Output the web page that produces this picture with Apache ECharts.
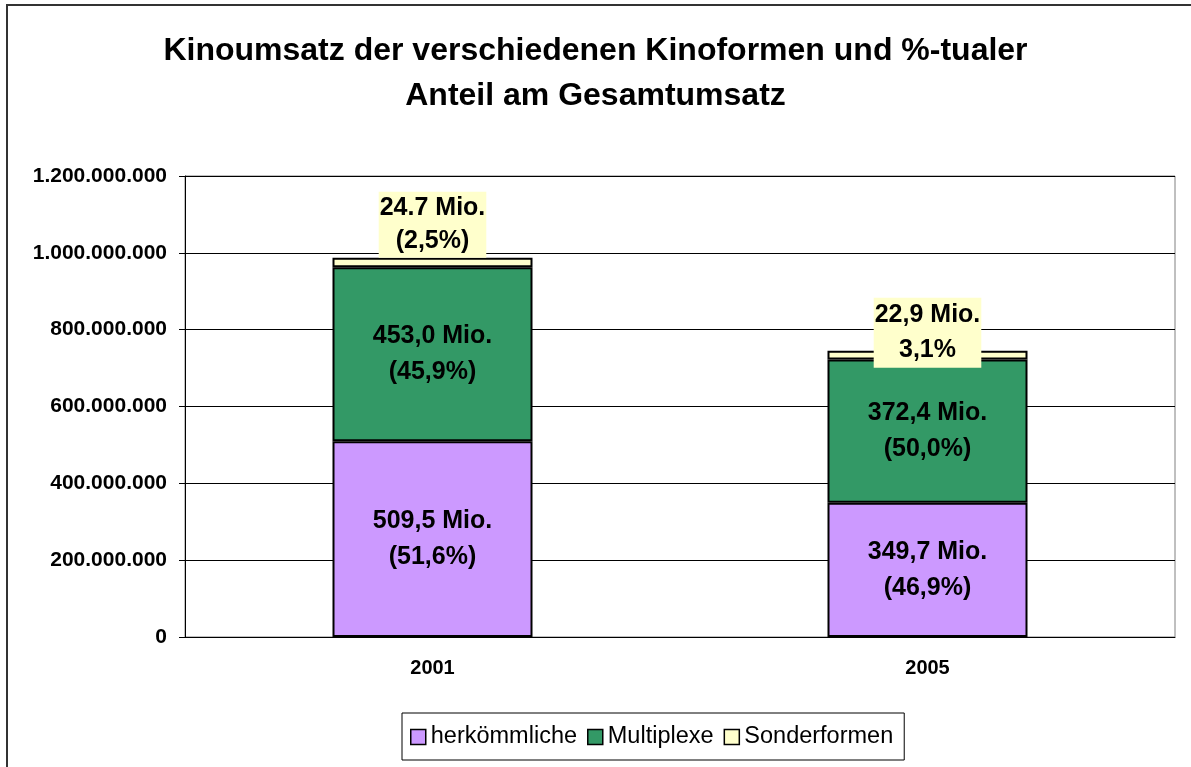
<!DOCTYPE html>
<html>
<head>
<meta charset="utf-8">
<script src="https://cdn.jsdelivr.net/npm/echarts@6/dist/echarts.min.js"></script>
<style>
  html, body { margin: 0; padding: 0; background: #fff; }
  #chart { width: 1191px; height: 767px; }
</style>
</head>
<body>
<div id="chart"></div>
<script>
const years = ['2001', '2005'];
const seriesNames = ['herkömmliche', 'Multiplexe', 'Sonderformen'];
const herkoemmlich = [509500000, 349700000];
const multiplexe = [453000000, 372400000];
const sonderformen = [24700000, 22900000];
const herkLabels = ['509,5 Mio.\n(51,6%)', '349,7 Mio.\n(46,9%)'];
const multiLabels = ['453,0 Mio.\n(45,9%)', '372,4 Mio.\n(50,0%)'];
const sonderLabels = ['24.7 Mio.\n(2,5%)', '22,9 Mio.\n3,1%'];
const yTicks = [0, 200000000, 400000000, 600000000, 800000000, 1000000000, 1200000000];

const font = '"Liberation Sans", Arial, sans-serif';
const colors = ['#CC99FF', '#339966', '#FFFFCC'];

function dots(v) {
    return String(v).replace(/\B(?=(\d{3})+(?!\d))/g, '.');
}

const barLabel = {
    show: true,
    position: 'inside',
    color: '#000',
    fontFamily: font,
    fontWeight: 'bold',
    fontSize: 25,
    lineHeight: 36
};

const chart = echarts.init(document.getElementById('chart'));

chart.setOption({
    animation: false,
    color: colors,
    title: {
        text: 'Kinoumsatz der verschiedenen Kinoformen und %-tualer\nAnteil am Gesamtumsatz',
        left: 'center',
        top: 29,
        padding: 0,
        textStyle: {
            fontFamily: font,
            fontWeight: 'bold',
            fontSize: 32,
            lineHeight: 45,
            color: '#000'
        }
    },
    legend: {
        data: seriesNames,
        left: 402,
        top: 713,
        orient: 'horizontal',
        padding: [12, 11, 11, 8],
        itemWidth: 15,
        itemHeight: 15,
        itemGap: 10,
        icon: 'rect',
        borderColor: '#000',
        borderWidth: 1,
        itemStyle: { borderColor: '#000', borderWidth: 1.5 },
        textStyle: {
            fontFamily: font,
            fontSize: 23.5,
            color: '#000'
        }
    },
    graphic: [{
        type: 'polyline',
        shape: { points: [[7, 767], [7, 5], [1191, 5]] },
        style: { stroke: '#333', lineWidth: 2, fill: null },
        silent: true
    }],
    grid: {
        left: 185,
        right: 16,
        top: 176,
        bottom: 130,
        show: true,
        borderColor: '#808080',
        borderWidth: 1
    },
    xAxis: {
        type: 'category',
        data: years,
        axisLine: { lineStyle: { color: '#000', width: 1 } },
        axisTick: { length: 6, lineStyle: { color: '#000' } },
        axisLabel: {
            margin: 21,
            color: '#000',
            fontFamily: font,
            fontWeight: 'bold',
            fontSize: 20
        }
    },
    yAxis: {
        type: 'value',
        min: yTicks[0],
        max: yTicks[yTicks.length - 1],
        interval: yTicks[1] - yTicks[0],
        axisLine: { show: true, lineStyle: { color: '#000', width: 1 } },
        axisTick: { show: true, length: 6, lineStyle: { color: '#000' } },
        splitLine: { lineStyle: { color: '#000', width: 1 } },
        axisLabel: {
            margin: 18,
            color: '#000',
            fontFamily: font,
            fontWeight: 'bold',
            fontSize: 21,
            formatter: dots
        }
    },
    series: [{
        name: seriesNames[0],
        type: 'bar',
        stack: 'umsatz',
        barWidth: 200,
        itemStyle: { borderColor: '#000', borderWidth: 2 },
        label: Object.assign({}, barLabel, {
            formatter: p => herkLabels[p.dataIndex]
        }),
        data: herkoemmlich
    }, {
        name: seriesNames[1],
        type: 'bar',
        stack: 'umsatz',
        barWidth: 200,
        itemStyle: { borderColor: '#000', borderWidth: 2 },
        label: Object.assign({}, barLabel, {
            formatter: p => multiLabels[p.dataIndex]
        }),
        data: multiplexe
    }, {
        name: seriesNames[2],
        type: 'bar',
        stack: 'umsatz',
        barWidth: 200,
        itemStyle: { borderColor: '#000', borderWidth: 2 },
        label: Object.assign({}, barLabel, {
            position: 'top',
            distance: 0,
            lineHeight: 33,
            padding: [0, 1],
            backgroundColor: '#FFFFCC',
            formatter: p => sonderLabels[p.dataIndex]
        }),
        data: sonderformen.map((v, i) => i === 1
            ? { value: v, label: { offset: [0, 17], lineHeight: 35 } }
            : v)
    }]
});
</script>
</body>
</html>
